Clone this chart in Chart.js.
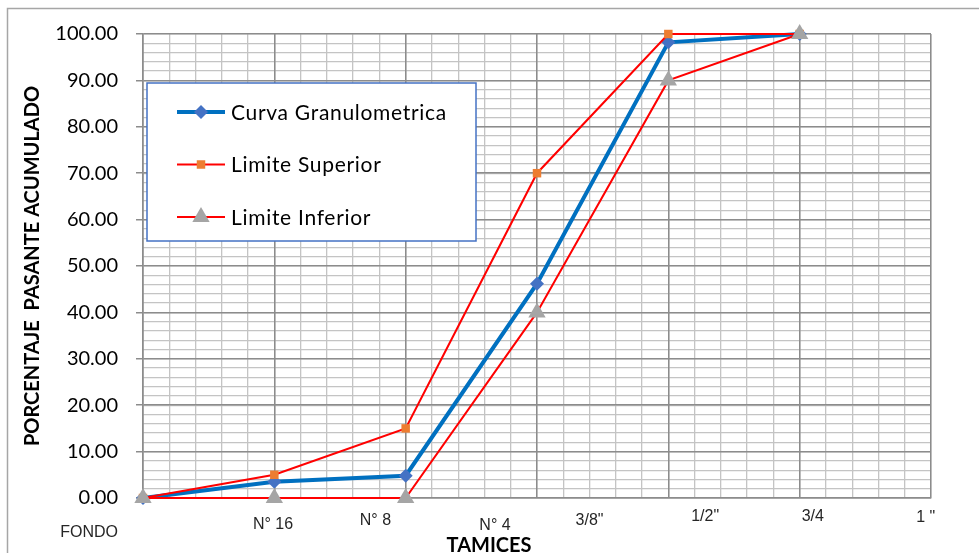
<!DOCTYPE html>
<html>
<head>
<meta charset="utf-8">
<script src="https://cdn.jsdelivr.net/npm/chart.js@4.4.1/dist/chart.umd.min.js"></script>
<style>
  html, body { margin: 0; padding: 0; background: #fff; }
  #wrap { width: 979px; height: 553px; }
</style>
</head>
<body>
<div id="wrap"><canvas id="granulometria" width="979" height="553"></canvas></div>
<script>
// Tamices y porcentaje pasante acumulado
const tamices = ['FONDO', 'N° 16', 'N° 8', 'N° 4', '3/8"', '1/2"', '3/4', '1 "'];
const curvaGranulometrica = [0, 3.5, 4.8, 46.2, 98.2, 100];
const limiteSuperior = [0, 5, 15, 70, 100, 100];
const limiteInferior = [0, 0, 0, 40, 90, 100];

// ubicación de cada rótulo de tamiz: [valor en eje x, px bajo el eje]
const rotulosX = [[-0.41, 35], [0.99, 27], [1.77, 23], [2.68, 27.5], [3.40, 23], [4.28, 19], [5.10, 19], [5.96, 19.5]];

const GRID_MAYOR = '#8c8c8c';
const GRID_MENOR = '#c4c4c4';

const aPuntos = arr => arr.map((y, i) => ({ x: i, y }));

// marco exterior del gráfico
const marco = {
  id: 'marco',
  beforeDraw(chart) {
    const { ctx } = chart;
    ctx.save();
    ctx.fillStyle = '#fff';
    ctx.fillRect(0, 0, chart.width, chart.height);
    ctx.strokeStyle = '#a6a6a6';
    ctx.lineWidth = 1.5;
    ctx.strokeRect(7.5, 8.5, chart.width + 20, chart.height + 20);
    ctx.restore();
  }
};

// rótulos de tamices y título del eje x
const rotulos = {
  id: 'rotulos',
  afterDraw(chart) {
    const { ctx, chartArea } = chart;
    const x = chart.scales.x;
    ctx.save();
    ctx.fillStyle = '#262626';
    ctx.font = '16px "Liberation Sans", Arial, sans-serif';
    ctx.textAlign = 'center';
    ctx.textBaseline = 'middle';
    tamices.forEach((t, i) => {
      const [v, dy] = rotulosX[i];
      ctx.fillText(t, x.getPixelForValue(v), chartArea.bottom + dy);
    });
    ctx.fillStyle = '#000';
    ctx.font = 'bold 20px Lato, sans-serif';
    ctx.textBaseline = 'alphabetic';
    ctx.fillText('TAMICES', x.getPixelForValue(2.635), chartArea.bottom + 54);
    ctx.restore();
  }
};

// leyenda en recuadro dentro del área de trazado
const leyenda = {
  id: 'leyenda',
  afterDraw(chart) {
    const { ctx } = chart;
    const box = { x: 147, y: 83, w: 329, h: 158 };
    ctx.save();
    ctx.fillStyle = '#fff';
    ctx.fillRect(box.x, box.y, box.w, box.h);
    ctx.strokeStyle = '#4472c4';
    ctx.lineWidth = 1.5;
    ctx.strokeRect(box.x, box.y, box.w, box.h);
    ctx.font = '21px Lato, sans-serif';
    ctx.letterSpacing = '0.7px';
    ctx.textBaseline = 'middle';
    chart.data.datasets.forEach((ds, i) => {
      const y = box.y + 29 + i * 52.5;
      ctx.strokeStyle = ds.borderColor;
      ctx.lineWidth = ds.borderWidth;
      ctx.beginPath();
      ctx.moveTo(box.x + 30, y);
      ctx.lineTo(box.x + 78, y);
      ctx.stroke();
      ctx.fillStyle = ds.pointBackgroundColor;
      Chart.helpers.drawPoint(ctx, {
        pointStyle: ds.pointStyle, radius: ds.pointRadius, rotation: 0, borderWidth: 0
      }, box.x + 54, y);
      ctx.fillStyle = '#000';
      ctx.fillText(ds.label, box.x + 84, y + 1);
    });
    ctx.restore();
  }
};

const ejeX = (menor) => ({
  type: 'linear',
  position: 'bottom',
  min: 0,
  max: 6,
  ticks: { display: false, stepSize: menor ? 0.2 : 1 },
  grid: {
    color: menor ? GRID_MENOR : GRID_MAYOR,
    lineWidth: menor ? 1.3 : 1.5,
    drawTicks: false,
    z: menor ? -2 : -1
  },
  border: { display: !menor, color: GRID_MAYOR, width: 1.5 },
  afterFit(scale) { scale.height = menor ? 0 : 55; }
});

new Chart(document.getElementById('granulometria'), {
  type: 'line',
  data: {
    datasets: [
      {
        label: 'Curva Granulometrica',
        data: aPuntos(curvaGranulometrica),
        borderColor: '#0070c0',
        borderWidth: 4,
        pointStyle: 'rectRot',
        pointRadius: 7,
        pointBackgroundColor: '#4472c4',
        pointBorderWidth: 0,
        order: 3
      },
      {
        label: 'Limite Superior',
        data: aPuntos(limiteSuperior),
        borderColor: '#ff0000',
        borderWidth: 2,
        pointStyle: 'rect',
        pointRadius: 6,
        pointBackgroundColor: '#ed7d31',
        pointBorderWidth: 0,
        order: 2
      },
      {
        label: 'Limite Inferior',
        data: aPuntos(limiteInferior),
        borderColor: '#ff0000',
        borderWidth: 2,
        pointStyle: 'triangle',
        pointRadius: 10,
        pointBackgroundColor: '#a5a5a5',
        pointBorderWidth: 0,
        order: 1
      }
    ]
  },
  options: {
    responsive: false,
    animation: false,
    clip: false,
    layout: { padding: { top: 34, right: 48, left: 0, bottom: 0 } },
    elements: { line: { tension: 0 } },
    plugins: {
      legend: { display: false },
      tooltip: { enabled: false }
    },
    scales: {
      x: ejeX(false),
      xMenor: ejeX(true),
      y: {
        type: 'linear',
        position: 'left',
        min: 0,
        max: 100,
        ticks: {
          stepSize: 10,
          padding: 18,
          color: '#000',
          font: { family: 'Lato', size: 20 },
          callback: v => v.toFixed(2)
        },
        grid: { color: GRID_MAYOR, lineWidth: 1.5, tickLength: 7 },
        border: { color: GRID_MAYOR, width: 1.5 },
        title: {
          display: true,
          text: 'PORCENTAJE  PASANTE ACUMULADO',
          color: '#000',
          font: { family: 'Lato', size: 20, weight: 'bold', lineHeight: 1.2 },
          padding: { top: 21, bottom: 0 }
        },
        afterFit(scale) { scale.width = 143; }
      },
      yMenor: {
        type: 'linear',
        position: 'left',
        min: 0,
        max: 100,
        ticks: { display: false, stepSize: 2 },
        grid: { color: GRID_MENOR, lineWidth: 1.3, drawTicks: false, z: -2 },
        border: { display: false },
        afterFit(scale) { scale.width = 0; }
      }
    }
  },
  plugins: [marco, rotulos, leyenda]
});
</script>
</body>
</html>
